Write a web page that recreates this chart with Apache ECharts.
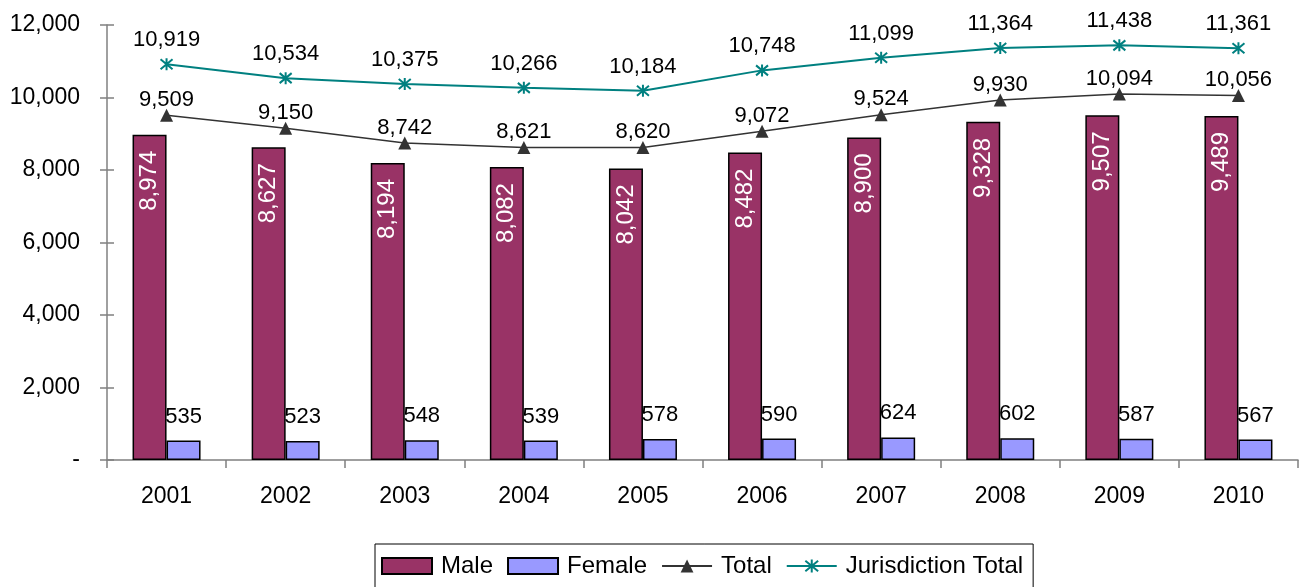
<!DOCTYPE html>
<html>
<head>
<meta charset="utf-8">
<script src="https://cdn.jsdelivr.net/npm/echarts@6/dist/echarts.min.js"></script>
<style>
  html, body { margin: 0; padding: 0; background: #fff; }
  #chart { width: 1301px; height: 587px; }
</style>
</head>
<body>
<div id="chart"></div>
<script>
const years = ["2001", "2002", "2003", "2004", "2005", "2006", "2007", "2008", "2009", "2010"];
const male = [8974, 8627, 8194, 8082, 8042, 8482, 8900, 9328, 9507, 9489];
const female = [535, 523, 548, 539, 578, 590, 624, 602, 587, 567];
const total = [9509, 9150, 8742, 8621, 8620, 9072, 9524, 9930, 10094, 10056];
const jurisdiction = [10919, 10534, 10375, 10266, 10184, 10748, 11099, 11364, 11438, 11361];

const font = "Liberation Sans, Arial, sans-serif";
const fmt = (v) => (v === 0 ? "-" : v.toLocaleString("en-US"));
// asterisk marker like the spreadsheet "star" marker
const star = "path://M-5,-5L5,5M-5,5L5,-5M0,-6L0,6";

const chart = echarts.init(document.getElementById("chart"));

chart.setOption({
  backgroundColor: "#fff",
  animation: false,
  textStyle: { fontFamily: font },
  grid: { left: 107, right: 3, top: 25, bottom: 127 },
  legend: {
    left: 375,
    top: 544,
    padding: [10, 10, 30, 6],
    borderColor: "#000",
    borderWidth: 1,
    itemWidth: 50,
    itemHeight: 16,
    itemGap: 14,
    textStyle: { fontSize: 24, color: "#000", fontFamily: font, padding: [0, 0, 0, 4] },
    data: [
      { name: "Male", icon: "rect" },
      { name: "Female", icon: "rect" },
      { name: "Total" },
      { name: "Jurisdiction Total" },
    ],
  },
  xAxis: {
    type: "category",
    data: years,
    axisLine: { lineStyle: { color: "#808080", width: 1.5 } },
    axisTick: { show: true, length: 8, lineStyle: { color: "#808080", width: 1.5 } },
    axisLabel: { color: "#000", fontSize: 23, margin: 25 },
  },
  yAxis: [
    {
      type: "value",
      min: 0,
      max: 12000,
      interval: 2000,
      axisLine: { show: true, lineStyle: { color: "#808080", width: 1.5 } },
      axisTick: { show: true, length: 7, lineStyle: { color: "#808080", width: 1.5 } },
      axisLabel: { color: "#000", fontSize: 23, margin: 27, formatter: fmt },
      splitLine: { show: false },
    },
    {
      type: "value",
      position: "left",
      min: 0,
      max: 12000,
      interval: 2000,
      axisLine: { show: false },
      axisTick: { show: true, inside: true, length: 7, lineStyle: { color: "#808080", width: 1.5 } },
      axisLabel: { show: false },
      splitLine: { show: false },
    },
  ],
  series: [
    {
      name: "Male",
      type: "bar",
      data: male,
      barWidth: 34,
      barGap: "0%",
      itemStyle: { color: "#993366", borderColor: "#000", borderWidth: 1.5 },
      label: {
        show: true,
        position: "insideTop",
        distance: 16,
        rotate: 90,
        align: "right",
        verticalAlign: "middle",
        color: "#fff",
        fontSize: 24,
        formatter: (p) => fmt(p.value),
      },
    },
    {
      name: "Female",
      type: "bar",
      data: female,
      barWidth: 34,
      itemStyle: { color: "#9999FF", borderColor: "#000", borderWidth: 1.5 },
      label: {
        show: true,
        position: "top",
        distance: 13,
        color: "#000",
        fontSize: 22,
        formatter: (p) => fmt(p.value),
      },
    },
    {
      name: "Total",
      type: "line",
      data: total,
      symbol: "triangle",
      symbolSize: 13,
      lineStyle: { color: "#333333", width: 1.5 },
      itemStyle: { color: "#333333" },
      label: {
        show: true,
        position: "top",
        distance: -2,
        color: "#000",
        fontSize: 22,
        formatter: (p) => fmt(p.value),
      },
    },
    {
      name: "Jurisdiction Total",
      type: "line",
      data: jurisdiction,
      symbol: star,
      symbolSize: 12,
      lineStyle: { color: "#008080", width: 2 },
      itemStyle: { color: "transparent", borderColor: "#008080", borderWidth: 2 },
      label: {
        show: true,
        position: "top",
        distance: 6,
        color: "#000",
        fontSize: 22,
        formatter: (p) => fmt(p.value),
      },
    },
  ],
});
</script>
</body>
</html>
